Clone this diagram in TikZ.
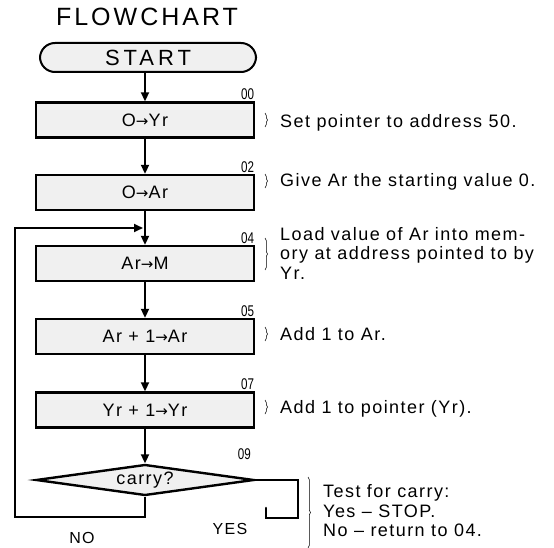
\documentclass[tikz,border=0pt]{standalone}
\usepackage{fontspec}
\setmainfont{Liberation Sans}
\newfontfamily\descfont[LetterSpace=8]{Liberation Sans}
\newfontfamily\titlefont[LetterSpace=12]{Liberation Sans}
\newfontfamily\startfont[LetterSpace=18]{Liberation Sans}
\newfontfamily\arrowfont{DejaVu Sans}
\newcommand{\goesto}{{\arrowfont\fontsize{15}{16}\selectfont →}}
\newcommand{\addr}[1]{\scalebox{0.75}[1]{#1}}
\usetikzlibrary{arrows.meta,shapes.geometric,decorations.pathreplacing}

\begin{document}
\begin{tikzpicture}[
    x=1pt, y=-1pt,
    >={Triangle[length=9pt,width=8pt]},
    box/.style={
        draw,
        line width=2.4pt,
        fill=black!6,
        minimum width=218pt,
        minimum height=35pt,
        inner sep=0pt,
        font=\descfont\fontsize{18}{20}\selectfont
    },
    test/.style={
        diamond,
        aspect=6,
        draw,
        line width=2.4pt,
        fill=black!6,
        minimum width=218pt,
        minimum height=31pt,
        inner sep=0pt,
        font=\descfont\fontsize{18}{20}\selectfont
    },
    addrlabel/.style={inner sep=1pt, font=\fontsize{15.5}{16}\selectfont},
    desc/.style={inner sep=0pt, align=left, font=\descfont\fontsize{18}{19.5}\selectfont},
    flow/.style={line width=2pt},
    curly/.style={line width=0.5pt, decorate, decoration={brace, amplitude=2.5pt}}
]
\useasboundingbox (0,0) rectangle (554,548);

% Title and start
\node[font=\titlefont\fontsize{25}{28}\selectfont] (title) at (147,17) {FLOWCHART};
\node[draw, line width=2pt, rounded corners=15pt, fill=black!6, minimum width=216pt,
      minimum height=29pt, font=\startfont\fontsize{22}{24}\selectfont] (start) at (148,57.5) {START};

% Steps
\node[box] (b00) at (145,120) {O\goesto Yr};
\node[box] (b02) at (145,192.5) {O\goesto Ar};
\node[box] (b04) at (145,263.5) {Ar\goesto M};
\node[box] (b05) at (145,336.5) {Ar + 1\goesto Ar};
\node[box] (b07) at (145,410) {Yr + 1\goesto Yr};
\node[test] (b09) at (145,480) {carry?};

% Addresses
\node[addrlabel, anchor=south east] (a00) at (b00.north east) {\addr{00}};
\node[addrlabel, anchor=south east] (a02) at (b02.north east) {\addr{02}};
\node[addrlabel, anchor=south east] (a04) at (b04.north east) {\addr{04}};
\node[addrlabel, anchor=south east] (a05) at (b05.north east) {\addr{05}};
\node[addrlabel, anchor=south east] (a07) at (b07.north east) {\addr{07}};
\node[addrlabel, anchor=south east] (a09) at (252,461) {\addr{09}};

% Comments
\node[desc, anchor=base west] (d00) at (280,128) {Set pointer to address 50.};
\node[desc, anchor=base west] (d02) at (280,187) {Give Ar the starting value 0.};
\node[desc, anchor=west] (d04) at (280,253) {Load value of Ar into mem-\\ory at address pointed to by\\Yr.};
\node[desc, anchor=base west] (d05) at (280,340) {Add 1 to Ar.};
\node[desc, anchor=base west] (d07) at (280,413) {Add 1 to pointer (Yr).};
\node[desc, anchor=west] (d09) at (323,511) {Test for carry:\\Yes – STOP.\\No – return to 04.};

\draw[curly] (265,113) -- (265,127);
\draw[curly] (265,174) -- (265,188);
\draw[curly] (265,238) -- (265,270);
\draw[curly] (265,327) -- (265,341);
\draw[curly] (265,400) -- (265,414);
\draw[curly] (308,477) -- (308,548);

% Main flow
\draw[flow, ->] (start.south -| b00.north) -- (b00.north);
\foreach \a/\b in {b00/b02, b02/b04, b04/b05, b05/b07, b07/b09}
    \draw[flow, ->] (\a) -- (\b);

% NO branch back to 04
\coordinate (noend) at (15,517);
\coordinate (rejoin) at (143,228);
\draw[flow, ->] (b09.south) |- (noend) |- (rejoin);
\node[font=\descfont\fontsize{16}{18}\selectfont] (no) at (82,538) {NO};

% YES branch
\coordinate (yesturn) at (298,518);
\coordinate (stop) at (266,508);
\draw[line width=2.6pt, line cap=round] (b09.east) -| (yesturn) -| (stop);
\node[font=\descfont\fontsize{16}{18}\selectfont] (yes) at (230,529) {YES};

\end{tikzpicture}
\end{document}
